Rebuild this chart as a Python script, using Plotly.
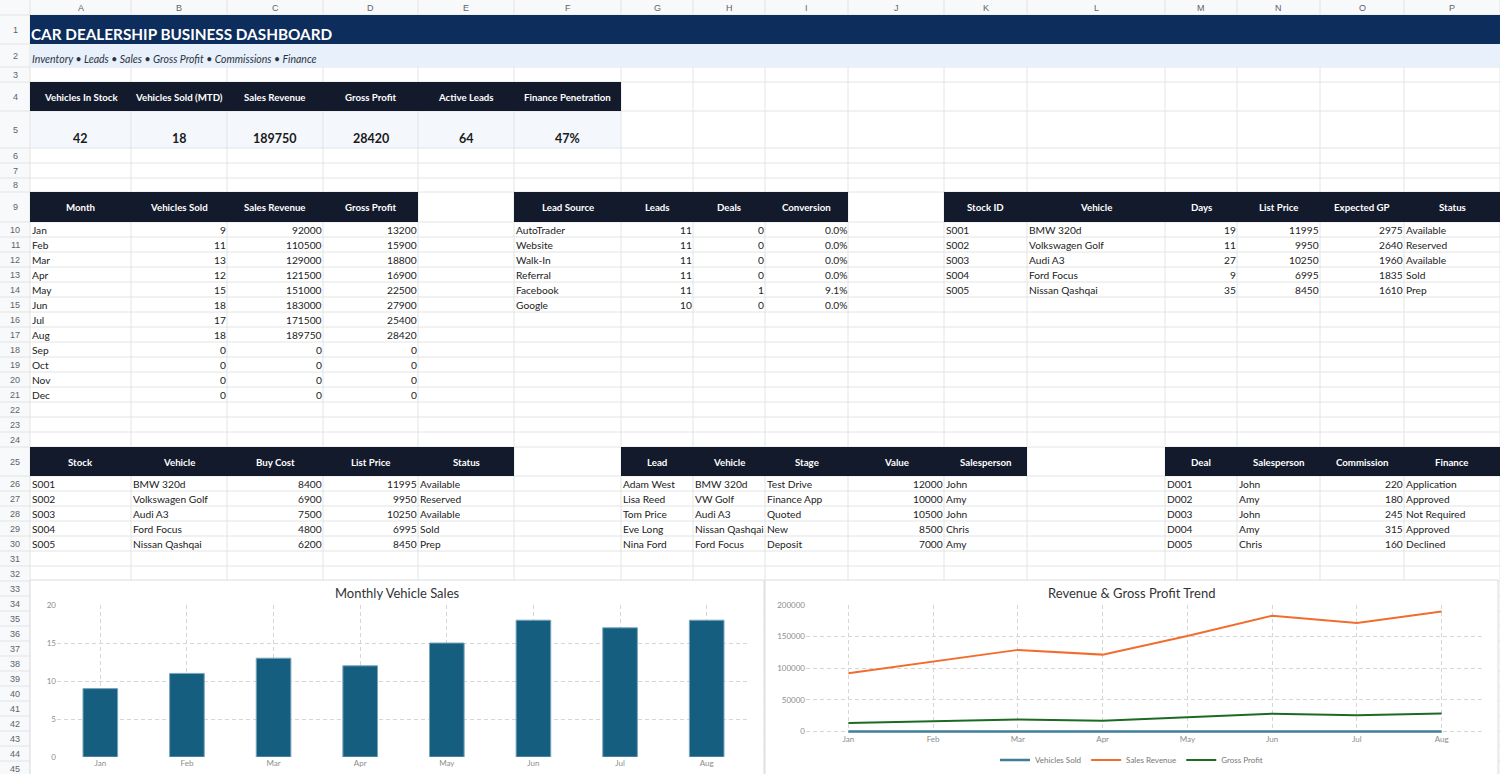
import plotly.graph_objects as go

# ---------------- data (read from the sheet) ----------------
MONTHS = ["Jan", "Feb", "Mar", "Apr", "May", "Jun", "Jul", "Aug", "Sep", "Oct", "Nov", "Dec"]
VEHICLES_SOLD = [9, 11, 13, 12, 15, 18, 17, 18, 0, 0, 0, 0]
SALES_REVENUE = [92000, 110500, 129000, 121500, 151000, 183000, 171500, 189750, 0, 0, 0, 0]
GROSS_PROFIT = [13200, 15900, 18800, 16900, 22500, 27900, 25400, 28420, 0, 0, 0, 0]

KPI_LABELS = ["Vehicles In Stock", "Vehicles Sold (MTD)", "Sales Revenue", "Gross Profit",
              "Active Leads", "Finance Penetration"]
KPI_VALUES = ["42", "18", "189750", "28420", "64", "47%"]

LEAD_SOURCES = ["AutoTrader", "Website", "Walk-In", "Referral", "Facebook", "Google"]
LEAD_COUNTS = [11, 11, 11, 11, 11, 10]
LEAD_DEALS = [0, 0, 0, 0, 1, 0]
LEAD_CONVERSION = ["0.0%", "0.0%", "0.0%", "0.0%", "9.1%", "0.0%"]

STOCK_IDS = ["S001", "S002", "S003", "S004", "S005"]
STOCK_VEHICLES = ["BMW 320d", "Volkswagen Golf", "Audi A3", "Ford Focus", "Nissan Qashqai"]
STOCK_DAYS = [19, 11, 27, 9, 35]
LIST_PRICES = [11995, 9950, 10250, 6995, 8450]
EXPECTED_GP = [2975, 2640, 1960, 1835, 1610]
STOCK_STATUS = ["Available", "Reserved", "Available", "Sold", "Prep"]
BUY_COSTS = [8400, 6900, 7500, 4800, 6200]

LEAD_NAMES = ["Adam West", "Lisa Reed", "Tom Price", "Eve Long", "Nina Ford"]
LEAD_VEHICLES = ["BMW 320d", "VW Golf", "Audi A3", "Nissan Qashqai", "Ford Focus"]
LEAD_STAGES = ["Test Drive", "Finance App", "Quoted", "New", "Deposit"]
LEAD_VALUES = [12000, 10000, 10500, 8500, 7000]
LEAD_SALESPEOPLE = ["John", "Amy", "John", "Chris", "Amy"]

DEAL_IDS = ["D001", "D002", "D003", "D004", "D005"]
DEAL_SALESPEOPLE = ["John", "Amy", "John", "Amy", "Chris"]
DEAL_COMMISSIONS = [220, 180, 245, 315, 160]
DEAL_FINANCE = ["Application", "Approved", "Not Required", "Approved", "Declined"]

# charts only use the months with sales so far
CHART_MONTHS = MONTHS[:8]

# ---------------- sheet geometry (pixels) ----------------
W, H = 1500, 774
COLS = "ABCDEFGHIJKLMNOP"
COL_EDGES = [0, 30, 131, 227, 323, 418, 514, 621, 693, 765, 848, 944, 1027, 1165, 1237, 1320, 1404, 1500]
ROW_HEIGHTS = [15, 29, 23, 15, 29, 37, 15, 15, 14, 30] + [15] * 15 + [29] + [15] * 20
ROW_EDGES = [0]
for h in ROW_HEIGHTS:
    ROW_EDGES.append(ROW_EDGES[-1] + h)

NAVY = "#0d2d5c"
HEAD = "#131a2b"
GRID = "#e3e4e5"
TXT = "#222222"
FONT = "Lato"
CELL_SIZE = 10.2
HEAD_SIZE = 9.7

shapes = []
annotations = []


def ci(letter):
    return COLS.index(letter) + 1


def row_mid(r):
    return (ROW_EDGES[r] + ROW_EDGES[r + 1]) / 2


def rect(x0, y0, x1, y1, fill, line=None):
    shapes.append(dict(type="rect", xref="x", yref="y", x0=x0, y0=y0, x1=x1, y1=y1,
                       fillcolor=fill, line=line or dict(width=0), layer="below"))


def line(x0, y0, x1, y1, color=GRID):
    shapes.append(dict(type="line", xref="x", yref="y", x0=x0, y0=y0, x1=x1, y1=y1,
                       line=dict(color=color, width=1), layer="below"))


def text(x, y, s, anchor="left", size=CELL_SIZE, color=TXT, family=FONT):
    annotations.append(dict(xref="x", yref="y", x=x, y=y, text=s, showarrow=False,
                            xanchor=anchor, yanchor="middle",
                            font=dict(family=family, size=size, color=color)))


def cell(c, r, value):
    # numbers (and percentages) sit on the right, text on the left
    if isinstance(value, (int, float)) or str(value).endswith("%"):
        text(COL_EDGES[c + 1] + 0.5, row_mid(r), str(value), "right")
    else:
        text(COL_EDGES[c] - 0.5, row_mid(r), str(value), "left")


def table(first_col, head_row, headers, columns):
    c0 = ci(first_col)
    n = len(headers)
    rect(COL_EDGES[c0], ROW_EDGES[head_row], COL_EDGES[c0 + n], ROW_EDGES[head_row + 1], HEAD)
    for j, h in enumerate(headers):
        xc = (COL_EDGES[c0 + j] + COL_EDGES[c0 + j + 1]) / 2
        text(xc, row_mid(head_row), "<b>" + h + "</b>", "center", size=HEAD_SIZE, color="white")
    for j, col in enumerate(columns):
        for i, v in enumerate(col):
            cell(c0 + j, head_row + 1 + i, v)


# sheet chrome: headers backgrounds
rect(0, 0, W, ROW_EDGES[1], "#f8f9fa")
rect(0, 0, COL_EDGES[1], ROW_EDGES[-1], "#f8f9fa")
# KPI value row fill (sits under the grid)
rect(COL_EDGES[1], ROW_EDGES[5], COL_EDGES[7], ROW_EDGES[6], "#f4f8fc")

# grid lines
for x in COL_EDGES[1:]:
    line(x, 0, x, ROW_EDGES[-1])
for y in ROW_EDGES[1:]:
    line(0, y, W, y)

# column letters and row numbers
for k, letter in enumerate(COLS):
    text((COL_EDGES[k + 1] + COL_EDGES[k + 2]) / 2, ROW_EDGES[1] / 2, letter, "center",
         size=9, color="#5f6368", family="Liberation Sans")
for r in range(1, len(ROW_HEIGHTS)):
    text(COL_EDGES[1] / 2, row_mid(r), str(r), "center", size=9, color="#5f6368",
         family="Liberation Sans")

# title rows
rect(COL_EDGES[1], ROW_EDGES[1], W, ROW_EDGES[2], NAVY)
rect(COL_EDGES[1], ROW_EDGES[2], W, ROW_EDGES[3], "#e8f0fc")
text(COL_EDGES[1] - 1, ROW_EDGES[2] - 10, "<b>CAR DEALERSHIP BUSINESS DASHBOARD</b>", size=15.3,
     color="white")
text(COL_EDGES[1] - 0.5, ROW_EDGES[3] - 8,
     "<i>Inventory • Leads • Sales • Gross Profit • Commissions • Finance</i>", size=10.5,
     color="#2b3342")

# KPI block
rect(COL_EDGES[1], ROW_EDGES[4], COL_EDGES[7], ROW_EDGES[5], HEAD)
for j, (lab, val) in enumerate(zip(KPI_LABELS, KPI_VALUES)):
    xc = (COL_EDGES[1 + j] + COL_EDGES[2 + j]) / 2
    text(xc, row_mid(4), "<b>" + lab + "</b>", "center", size=HEAD_SIZE, color="white")
    text(xc, ROW_EDGES[6] - 10, "<b>" + val + "</b>", "center", size=12.5, color="#1a1a1a")

# tables
table("A", 9, ["Month", "Vehicles Sold", "Sales Revenue", "Gross Profit"],
      [MONTHS, VEHICLES_SOLD, SALES_REVENUE, GROSS_PROFIT])
table("F", 9, ["Lead Source", "Leads", "Deals", "Conversion"],
      [LEAD_SOURCES, LEAD_COUNTS, LEAD_DEALS, LEAD_CONVERSION])
table("K", 9, ["Stock ID", "Vehicle", "Days", "List Price", "Expected GP", "Status"],
      [STOCK_IDS, STOCK_VEHICLES, STOCK_DAYS, LIST_PRICES, EXPECTED_GP, STOCK_STATUS])
table("A", 25, ["Stock", "Vehicle", "Buy Cost", "List Price", "Status"],
      [STOCK_IDS, STOCK_VEHICLES, BUY_COSTS, LIST_PRICES, STOCK_STATUS])
table("G", 25, ["Lead", "Vehicle", "Stage", "Value", "Salesperson"],
      [LEAD_NAMES, LEAD_VEHICLES, LEAD_STAGES, LEAD_VALUES, LEAD_SALESPEOPLE])
table("M", 25, ["Deal", "Salesperson", "Commission", "Finance"],
      [DEAL_IDS, DEAL_SALESPEOPLE, DEAL_COMMISSIONS, DEAL_FINANCE])

# chart boxes
CH_TOP = 580
BOX_L = (30, 764)
BOX_R = (765, 1498)
for x0, x1 in (BOX_L, BOX_R):
    rect(x0, CH_TOP, x1, H + 5, "white", dict(color="#dadce0", width=1))
text((BOX_L[0] + BOX_L[1]) / 2, 593, "Monthly Vehicle Sales", "center", size=13, color="#333333")
text((BOX_R[0] + BOX_R[1]) / 2, 593, "Revenue & Gross Profit Trend", "center", size=13,
     color="#333333")

# ---------------- figure ----------------
BLUE = "#165e80"
ORANGE = "#f26d2d"
GREEN = "#1d6b22"

fig = go.Figure()
fig.add_trace(go.Bar(x=CHART_MONTHS, y=VEHICLES_SOLD[:8], marker_color=BLUE,
                     marker_line=dict(color="#7aa6bd", width=1), width=0.4,
                     xaxis="x2", yaxis="y2", showlegend=False, name="Vehicles Sold"))
fig.add_trace(go.Scatter(x=CHART_MONTHS, y=VEHICLES_SOLD[:8], mode="lines", name="Vehicles Sold",
                         line=dict(color="#3f7d99", width=2.5), xaxis="x3", yaxis="y3"))
fig.add_trace(go.Scatter(x=CHART_MONTHS, y=SALES_REVENUE[:8], mode="lines", name="Sales Revenue",
                         line=dict(color=ORANGE, width=2), xaxis="x3", yaxis="y3"))
fig.add_trace(go.Scatter(x=CHART_MONTHS, y=GROSS_PROFIT[:8], mode="lines", name="Gross Profit",
                         line=dict(color=GREEN, width=2), xaxis="x3", yaxis="y3"))


def px_x(a, b):
    return [a / W, b / W]


def px_y(top, bottom):
    return [1 - bottom / H, 1 - top / H]


tick_font = dict(family=FONT, size=8, color="#8c8c8c")
grid = dict(showgrid=True, gridcolor="#d6d6d6", griddash="4px,3px", gridwidth=1,
            zeroline=False, showline=False, ticks="", tickfont=tick_font, fixedrange=True,
            automargin=False)

fig.update_layout(
    width=W, height=H,
    margin=dict(l=0, r=0, t=0, b=0, autoexpand=False),
    paper_bgcolor="white", plot_bgcolor="rgba(0,0,0,0)",
    shapes=shapes, annotations=annotations,
    xaxis=dict(domain=[0, 1], range=[0, W], visible=False, fixedrange=True, automargin=False),
    yaxis=dict(domain=[0, 1], range=[H, 0], visible=False, fixedrange=True, automargin=False),
    xaxis2=dict(domain=px_x(57, 750), anchor="y2", type="category", **grid),
    yaxis2=dict(domain=px_y(605, 757), anchor="x2", range=[0, 20], dtick=5, **grid),
    xaxis3=dict(domain=px_x(806, 1484), anchor="y3", type="category", range=[-0.5, 7.5], **grid),
    yaxis3=dict(domain=px_y(605, 733), anchor="x3", range=[-2500, 200000], dtick=50000,
                tickformat="d", **grid),
    legend=dict(orientation="h", x=(BOX_R[0] + BOX_R[1]) / 2 / W, xanchor="center",
                y=1 - 760 / H, yanchor="middle", itemwidth=30, bgcolor="rgba(0,0,0,0)",
                font=dict(family=FONT, size=8, color="#777777")),
    font=dict(family=FONT),
    hovermode=False,
)

fig.write_html("out.html", config={"displayModeBar": False},
               post_script="document.body.style.margin='0';document.body.style.overflow='hidden';")
